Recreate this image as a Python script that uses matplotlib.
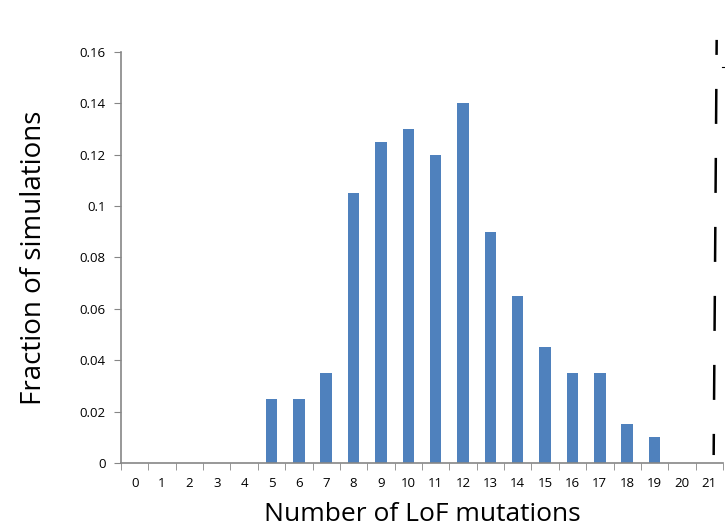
import matplotlib
matplotlib.use("Agg")
import matplotlib.pyplot as plt
import numpy as np

categories = list(range(22))
fractions = [0, 0, 0, 0, 0, 0.025, 0.025, 0.035, 0.105, 0.125, 0.13, 0.12,
             0.14, 0.09, 0.065, 0.045, 0.035, 0.035, 0.015, 0.01, 0, 0]
y_ticks = [0, 0.02, 0.04, 0.06, 0.08, 0.1, 0.12, 0.14, 0.16]
y_tick_labels = ["0", "0.02", "0.04", "0.06", "0.08", "0.1", "0.12", "0.14", "0.16"]
observed_top = 21.27
observed_bottom = 21.16

plt.rcParams['font.family'] = ['Open Sans', 'DejaVu Sans']

fig = plt.figure(figsize=(7.25, 5.32), dpi=100)
ax = fig.add_axes([0.1669, 0.1297, 0.8303, 0.7726])

ax.bar(categories, fractions, width=0.42, color="#4f81bd", zorder=2)
ax.set_xlim(-0.5, 21.5)
ax.set_ylim(0, 0.16)

ax.set_yticks(y_ticks)
ax.set_yticklabels(y_tick_labels, fontsize=9.5)
ax.set_xticks(categories)
ax.set_xticklabels([str(c) for c in categories], fontsize=9.5)
ax.set_xticks(np.arange(-0.5, 22, 1), minor=True)
ax.tick_params(axis='x', which='major', length=0, pad=10)
ax.tick_params(axis='x', which='minor', length=5, color="#868686", direction='out')
ax.tick_params(axis='y', length=5, color="#868686", direction='out', pad=6)

for s in ['top', 'right']:
    ax.spines[s].set_visible(False)
for s in ['left', 'bottom']:
    ax.spines[s].set_color("#868686")
    ax.spines[s].set_linewidth(1.2)

ax.plot([observed_top, observed_bottom], [0.1647, 0.0031], color="black", lw=1.8,
        linestyle=(8, (14, 13.6)), clip_on=False, zorder=3)
ax.plot([21.46, 21.54], [0.1542, 0.1542], color="black", lw=0.8,
        clip_on=False, zorder=3)

ax.set_ylabel("Fraction of simulations", fontsize=20, labelpad=23)
ax.set_xlabel("Number of LoF mutations", fontsize=19, labelpad=9)

fig.savefig("out.png", dpi=100)
